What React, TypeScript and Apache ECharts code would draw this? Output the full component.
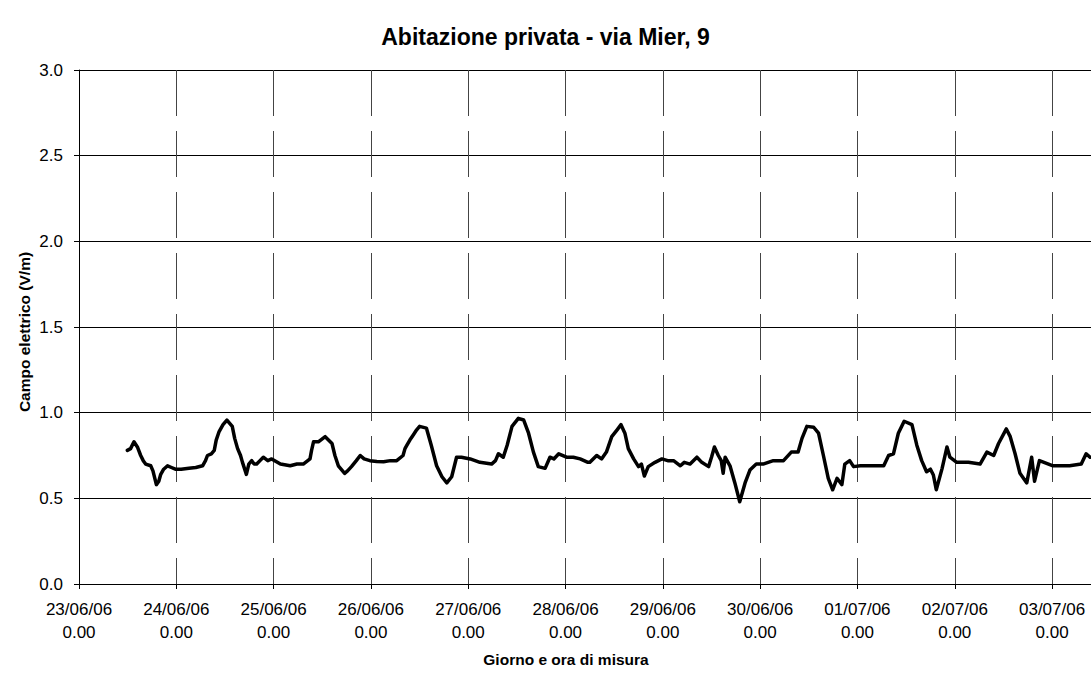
import React, { useEffect, useRef } from "react";
import * as echarts from "echarts";

const titleText = "Abitazione privata - via Mier, 9";
const yAxisTitle = "Campo elettrico (V/m)";
const xAxisTitle = "Giorno e ora di misura";

// x tick labels (one per day, starting 23/06/06 0.00)
const dateLabels = [
  "23/06/06", "24/06/06", "25/06/06", "26/06/06", "27/06/06", "28/06/06",
  "29/06/06", "30/06/06", "01/07/06", "02/07/06", "03/07/06",
];
const hourLabel = "0.00";

// time in days since 23/06/06 0.00
const times = [
  0.497, 0.53, 0.565, 0.6, 0.634, 0.66, 0.685, 0.737, 0.76, 0.795, 0.82, 0.84, 0.87, 0.91, 0.95, 0.99,
  1.05, 1.13, 1.2, 1.27, 1.3, 1.32, 1.36, 1.39, 1.41, 1.44, 1.48, 1.52, 1.575, 1.6, 1.63, 1.66, 1.68,
  1.72, 1.745, 1.775, 1.8, 1.826, 1.86, 1.894, 1.94, 1.98, 2.07, 2.17, 2.24, 2.305, 2.374, 2.39, 2.41,
  2.46, 2.53, 2.6, 2.63, 2.665, 2.73, 2.76, 2.8, 2.85, 2.89, 2.93, 2.99, 3.06, 3.13, 3.2, 3.265, 3.33,
  3.35, 3.37, 3.4, 3.435, 3.47, 3.5, 3.57, 3.62, 3.675, 3.73, 3.78, 3.83, 3.88, 3.93, 4.02, 4.12, 4.24,
  4.28, 4.31, 4.36, 4.4, 4.45, 4.515, 4.57, 4.62, 4.67, 4.72, 4.79, 4.84, 4.88, 4.93, 5.01, 5.08, 5.15,
  5.23, 5.25, 5.32, 5.37, 5.42, 5.475, 5.53, 5.57, 5.61, 5.645, 5.7, 5.75, 5.78, 5.81, 5.85, 5.92, 5.99,
  6.05, 6.11, 6.18, 6.22, 6.28, 6.35, 6.4, 6.47, 6.5, 6.53, 6.57, 6.6, 6.62, 6.64, 6.69, 6.74, 6.79,
  6.845, 6.895, 6.96, 7.03, 7.135, 7.24, 7.32, 7.39, 7.43, 7.48, 7.55, 7.6, 7.65, 7.7, 7.745, 7.79, 7.84,
  7.87, 7.92, 7.96, 8.03, 8.15, 8.27, 8.32, 8.37, 8.42, 8.48, 8.56, 8.61, 8.66, 8.71, 8.75, 8.78, 8.81,
  8.87, 8.92, 8.95, 9.02, 9.14, 9.26, 9.33, 9.4, 9.45, 9.53, 9.57, 9.62, 9.67, 9.74, 9.79, 9.82, 9.87,
  10.01, 10.18, 10.3, 10.35, 10.39,
];

// electric field (V/m)
const values = [
  0.78, 0.79, 0.83, 0.8, 0.75, 0.72, 0.7, 0.69, 0.66, 0.58, 0.6, 0.64, 0.67, 0.69, 0.68, 0.67,
  0.67, 0.675, 0.68, 0.69, 0.72, 0.75, 0.76, 0.78, 0.84, 0.89, 0.93, 0.957, 0.92, 0.85, 0.79, 0.75, 0.71,
  0.64, 0.7, 0.72, 0.7, 0.7, 0.72, 0.74, 0.72, 0.73, 0.7, 0.69, 0.7, 0.7, 0.73, 0.78, 0.83,
  0.83, 0.86, 0.82, 0.75, 0.69, 0.646, 0.66, 0.685, 0.72, 0.75, 0.73, 0.72, 0.715, 0.714, 0.72, 0.72, 0.75,
  0.79, 0.81, 0.84, 0.87, 0.9, 0.92, 0.91, 0.81, 0.69, 0.626, 0.59, 0.626, 0.74, 0.74, 0.73, 0.71, 0.7,
  0.72, 0.76, 0.74, 0.81, 0.92, 0.967, 0.957, 0.88, 0.77, 0.685, 0.675, 0.74, 0.73, 0.76, 0.74, 0.74, 0.73,
  0.71, 0.71, 0.75, 0.73, 0.77, 0.86, 0.9, 0.93, 0.88, 0.79, 0.73, 0.685, 0.7, 0.63, 0.685, 0.71, 0.73,
  0.72, 0.72, 0.69, 0.71, 0.7, 0.74, 0.71, 0.685, 0.74, 0.8, 0.75, 0.72, 0.646, 0.74, 0.69, 0.59, 0.48,
  0.59, 0.665, 0.7, 0.7, 0.72, 0.72, 0.77, 0.77, 0.85, 0.92, 0.915, 0.88, 0.75, 0.617, 0.55, 0.617, 0.58,
  0.7, 0.72, 0.685, 0.69, 0.69, 0.69, 0.75, 0.76, 0.88, 0.95, 0.93, 0.81, 0.72, 0.655, 0.67, 0.636, 0.55,
  0.675, 0.8, 0.74, 0.71, 0.71, 0.7, 0.77, 0.75, 0.82, 0.905, 0.86, 0.76, 0.646, 0.59, 0.74, 0.6, 0.72,
  0.69, 0.69, 0.7, 0.76, 0.74,
];

const FONT = "'Liberation Sans', Arial, sans-serif";

export default function App() {
  const ref = useRef<HTMLDivElement>(null);
  useEffect(() => {
    if (!ref.current) return;
    const chart = echarts.init(ref.current, null, { renderer: "svg" });
    const data = times.map((t, i) => [t, values[i]]);
    chart.setOption({
      animation: false,
      backgroundColor: "#ffffff",
      textStyle: { fontFamily: FONT },
      title: {
        text: titleText,
        left: "center",
        top: 20,
        textStyle: { fontFamily: FONT, fontSize: 23, fontWeight: "bold", color: "#000" },
      },
      grid: { left: 79, right: 0, top: 70, bottom: 107, containLabel: false },
      xAxis: {
        type: "value",
        min: 0,
        max: 10.4,
        interval: 1,
        axisLine: { show: true, lineStyle: { color: "#000", width: 1 } },
        axisTick: { show: true, inside: false, length: 5, lineStyle: { color: "#000" } },
        axisLabel: {
          margin: 14,
          fontFamily: FONT,
          fontSize: 17,
          color: "#000",
          lineHeight: 23,
          showMaxLabel: false,
          formatter: (v: number) => {
            const i = Math.round(v);
            if (Math.abs(v - i) > 1e-6 || !dateLabels[i]) return "";
            return dateLabels[i] + "\n" + hourLabel;
          },
        },
        splitLine: { show: true, lineStyle: { color: "#444", width: 1, type: [46, 15] } },
      },
      yAxis: {
        type: "value",
        min: 0,
        max: 3,
        interval: 0.5,
        axisLine: { show: true, lineStyle: { color: "#000", width: 1 } },
        axisTick: { show: true, inside: false, length: 5, lineStyle: { color: "#000" } },
        axisLabel: {
          margin: 16,
          fontFamily: FONT,
          fontSize: 17,
          color: "#000",
          formatter: (v: number) => v.toFixed(1),
        },
        splitLine: { show: true, lineStyle: { color: "#000", width: 1 } },
      },
      graphic: [
        {
          type: "text",
          x: 24,
          y: 332,
          rotation: Math.PI / 2,
          style: {
            text: yAxisTitle,
            fontFamily: FONT,
            fontSize: 15.5,
            fontWeight: "bold",
            fill: "#000",
            textAlign: "center",
            textVerticalAlign: "middle",
          },
        },
        {
          type: "text",
          x: 566,
          y: 659,
          style: {
            text: xAxisTitle,
            fontFamily: FONT,
            fontSize: 15.5,
            fontWeight: "bold",
            fill: "#000",
            textAlign: "center",
            textVerticalAlign: "middle",
          },
        },
      ],
      series: [
        {
          type: "line",
          data,
          showSymbol: false,
          symbol: "none",
          lineStyle: { color: "#000", width: 3.5, join: "round", cap: "round" },
          z: 5,
        },
      ],
    });
    return () => chart.dispose();
  }, []);
  return (
    <div
      ref={ref}
      style={{ position: "absolute", left: 0, top: 0, width: 1091, height: 691 }}
    />
  );
}
